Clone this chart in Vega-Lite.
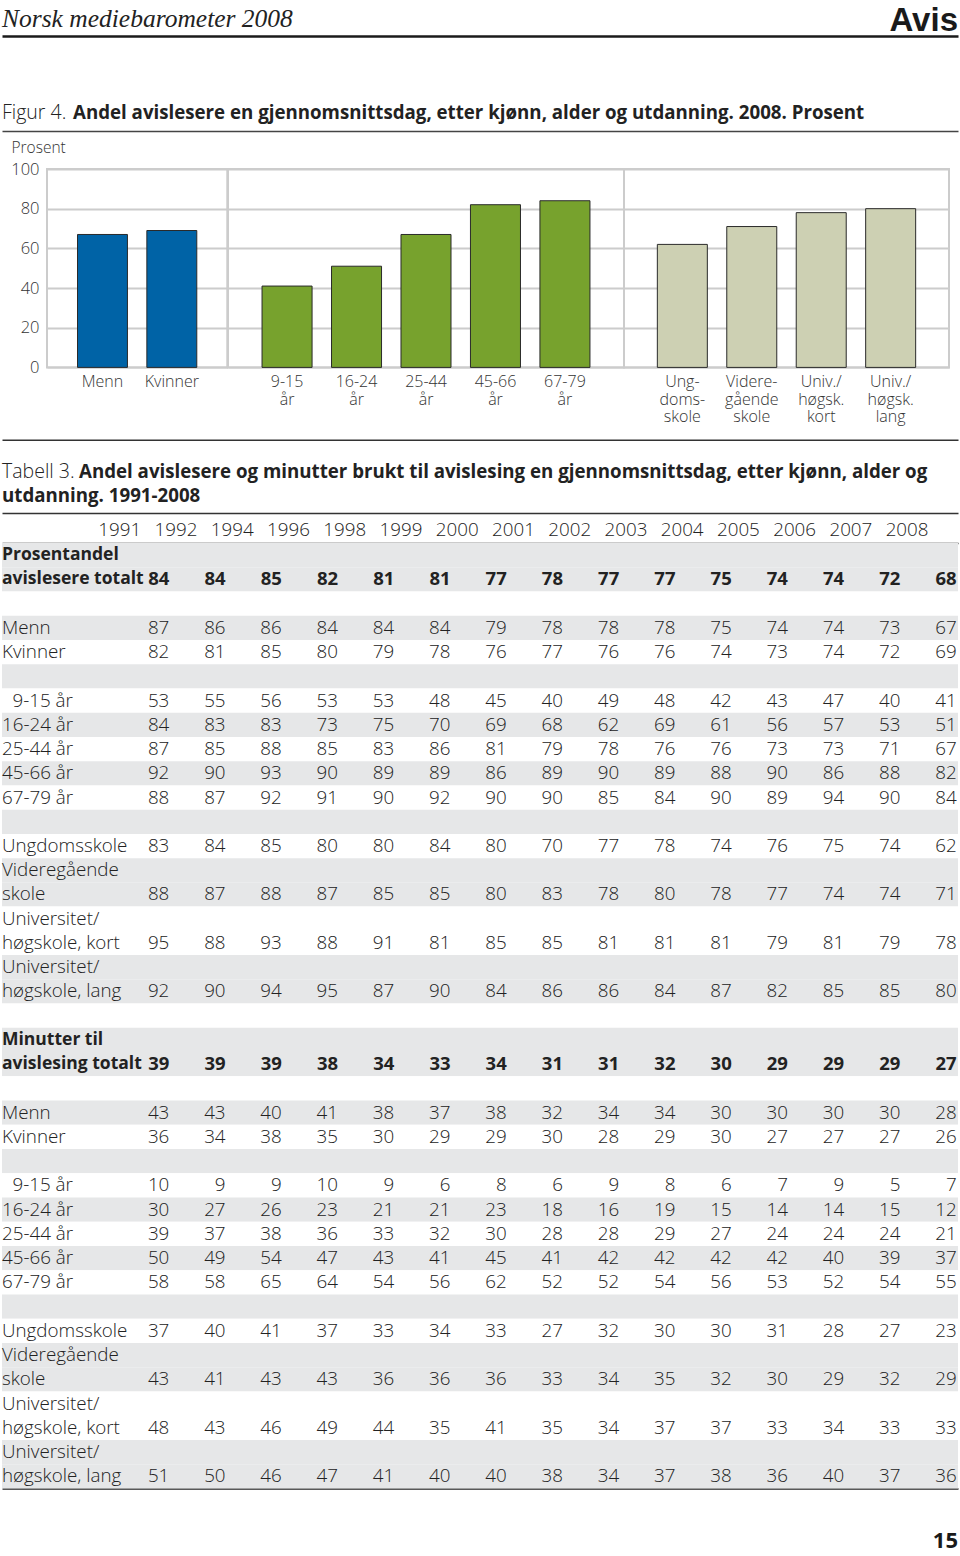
{
  "$schema": "https://vega.github.io/schema/vega-lite/v6.json",
  "padding": {"left": 2, "right": 2, "top": 0, "bottom": 0},
  "background": "white",
  "spacing": 0,
  "bounds": "flush",
  "config": {
    "view": {"stroke": null},
    "font": "Open Sans",
    "text": {"font": "Open Sans", "color": "#222222"},
    "axis": {"labelFont": "Open Sans", "titleFont": "Open Sans"}
  },
  "datasets": {
    "figur": [
      {"gruppe": "Kjønn", "kategori": "Menn", "prosent": 67},
      {"gruppe": "Kjønn", "kategori": "Kvinner", "prosent": 69},
      {"gruppe": "Alder", "kategori": "9-15\når", "prosent": 41},
      {"gruppe": "Alder", "kategori": "16-24\når", "prosent": 51},
      {"gruppe": "Alder", "kategori": "25-44\når", "prosent": 67},
      {"gruppe": "Alder", "kategori": "45-66\når", "prosent": 82},
      {"gruppe": "Alder", "kategori": "67-79\når", "prosent": 84},
      {"gruppe": "Utdanning", "kategori": "Ung-\ndoms-\nskole", "prosent": 62},
      {"gruppe": "Utdanning", "kategori": "Videre-\ngående\nskole", "prosent": 71},
      {"gruppe": "Utdanning", "kategori": "Univ./\nhøgsk.\nkort", "prosent": 78},
      {"gruppe": "Utdanning", "kategori": "Univ./\nhøgsk.\nlang", "prosent": 80}
    ],
    "tabell": [
      {"linje": 0, "rad": 0, "art": "total", "tekst": "Prosentandel"},
      {"linje": 1, "rad": 0, "art": "total", "tekst": "avislesere totalt", "1991": 84, "1992": 84, "1994": 85, "1996": 82, "1998": 81, "1999": 81, "2000": 77, "2001": 78, "2002": 77, "2003": 77, "2004": 75, "2005": 74, "2006": 74, "2007": 72, "2008": 68},
      {"linje": 2, "rad": 1, "art": "tom", "tekst": ""},
      {"linje": 3, "rad": 2, "art": "vanlig", "tekst": "Menn", "1991": 87, "1992": 86, "1994": 86, "1996": 84, "1998": 84, "1999": 84, "2000": 79, "2001": 78, "2002": 78, "2003": 78, "2004": 75, "2005": 74, "2006": 74, "2007": 73, "2008": 67},
      {"linje": 4, "rad": 3, "art": "vanlig", "tekst": "Kvinner", "1991": 82, "1992": 81, "1994": 85, "1996": 80, "1998": 79, "1999": 78, "2000": 76, "2001": 77, "2002": 76, "2003": 76, "2004": 74, "2005": 73, "2006": 74, "2007": 72, "2008": 69},
      {"linje": 5, "rad": 4, "art": "tom", "tekst": ""},
      {"linje": 6, "rad": 5, "art": "vanlig", "tekst": "9-15 år", "1991": 53, "1992": 55, "1994": 56, "1996": 53, "1998": 53, "1999": 48, "2000": 45, "2001": 40, "2002": 49, "2003": 48, "2004": 42, "2005": 43, "2006": 47, "2007": 40, "2008": 41},
      {"linje": 7, "rad": 6, "art": "vanlig", "tekst": "16-24 år", "1991": 84, "1992": 83, "1994": 83, "1996": 73, "1998": 75, "1999": 70, "2000": 69, "2001": 68, "2002": 62, "2003": 69, "2004": 61, "2005": 56, "2006": 57, "2007": 53, "2008": 51},
      {"linje": 8, "rad": 7, "art": "vanlig", "tekst": "25-44 år", "1991": 87, "1992": 85, "1994": 88, "1996": 85, "1998": 83, "1999": 86, "2000": 81, "2001": 79, "2002": 78, "2003": 76, "2004": 76, "2005": 73, "2006": 73, "2007": 71, "2008": 67},
      {"linje": 9, "rad": 8, "art": "vanlig", "tekst": "45-66 år", "1991": 92, "1992": 90, "1994": 93, "1996": 90, "1998": 89, "1999": 89, "2000": 86, "2001": 89, "2002": 90, "2003": 89, "2004": 88, "2005": 90, "2006": 86, "2007": 88, "2008": 82},
      {"linje": 10, "rad": 9, "art": "vanlig", "tekst": "67-79 år", "1991": 88, "1992": 87, "1994": 92, "1996": 91, "1998": 90, "1999": 92, "2000": 90, "2001": 90, "2002": 85, "2003": 84, "2004": 90, "2005": 89, "2006": 94, "2007": 90, "2008": 84},
      {"linje": 11, "rad": 10, "art": "tom", "tekst": ""},
      {"linje": 12, "rad": 11, "art": "vanlig", "tekst": "Ungdomsskole", "1991": 83, "1992": 84, "1994": 85, "1996": 80, "1998": 80, "1999": 84, "2000": 80, "2001": 70, "2002": 77, "2003": 78, "2004": 74, "2005": 76, "2006": 75, "2007": 74, "2008": 62},
      {"linje": 13, "rad": 12, "art": "vanlig", "tekst": "Videregående"},
      {"linje": 14, "rad": 12, "art": "vanlig", "tekst": "skole", "1991": 88, "1992": 87, "1994": 88, "1996": 87, "1998": 85, "1999": 85, "2000": 80, "2001": 83, "2002": 78, "2003": 80, "2004": 78, "2005": 77, "2006": 74, "2007": 74, "2008": 71},
      {"linje": 15, "rad": 13, "art": "vanlig", "tekst": "Universitet/"},
      {"linje": 16, "rad": 13, "art": "vanlig", "tekst": "høgskole, kort", "1991": 95, "1992": 88, "1994": 93, "1996": 88, "1998": 91, "1999": 81, "2000": 85, "2001": 85, "2002": 81, "2003": 81, "2004": 81, "2005": 79, "2006": 81, "2007": 79, "2008": 78},
      {"linje": 17, "rad": 14, "art": "vanlig", "tekst": "Universitet/"},
      {"linje": 18, "rad": 14, "art": "vanlig", "tekst": "høgskole, lang", "1991": 92, "1992": 90, "1994": 94, "1996": 95, "1998": 87, "1999": 90, "2000": 84, "2001": 86, "2002": 86, "2003": 84, "2004": 87, "2005": 82, "2006": 85, "2007": 85, "2008": 80},
      {"linje": 19, "rad": 15, "art": "tom", "tekst": ""},
      {"linje": 20, "rad": 16, "art": "total", "tekst": "Minutter til"},
      {"linje": 21, "rad": 16, "art": "total", "tekst": "avislesing totalt", "1991": 39, "1992": 39, "1994": 39, "1996": 38, "1998": 34, "1999": 33, "2000": 34, "2001": 31, "2002": 31, "2003": 32, "2004": 30, "2005": 29, "2006": 29, "2007": 29, "2008": 27},
      {"linje": 22, "rad": 17, "art": "tom", "tekst": ""},
      {"linje": 23, "rad": 18, "art": "vanlig", "tekst": "Menn", "1991": 43, "1992": 43, "1994": 40, "1996": 41, "1998": 38, "1999": 37, "2000": 38, "2001": 32, "2002": 34, "2003": 34, "2004": 30, "2005": 30, "2006": 30, "2007": 30, "2008": 28},
      {"linje": 24, "rad": 19, "art": "vanlig", "tekst": "Kvinner", "1991": 36, "1992": 34, "1994": 38, "1996": 35, "1998": 30, "1999": 29, "2000": 29, "2001": 30, "2002": 28, "2003": 29, "2004": 30, "2005": 27, "2006": 27, "2007": 27, "2008": 26},
      {"linje": 25, "rad": 20, "art": "tom", "tekst": ""},
      {"linje": 26, "rad": 21, "art": "vanlig", "tekst": "9-15 år", "1991": 10, "1992": 9, "1994": 9, "1996": 10, "1998": 9, "1999": 6, "2000": 8, "2001": 6, "2002": 9, "2003": 8, "2004": 6, "2005": 7, "2006": 9, "2007": 5, "2008": 7},
      {"linje": 27, "rad": 22, "art": "vanlig", "tekst": "16-24 år", "1991": 30, "1992": 27, "1994": 26, "1996": 23, "1998": 21, "1999": 21, "2000": 23, "2001": 18, "2002": 16, "2003": 19, "2004": 15, "2005": 14, "2006": 14, "2007": 15, "2008": 12},
      {"linje": 28, "rad": 23, "art": "vanlig", "tekst": "25-44 år", "1991": 39, "1992": 37, "1994": 38, "1996": 36, "1998": 33, "1999": 32, "2000": 30, "2001": 28, "2002": 28, "2003": 29, "2004": 27, "2005": 24, "2006": 24, "2007": 24, "2008": 21},
      {"linje": 29, "rad": 24, "art": "vanlig", "tekst": "45-66 år", "1991": 50, "1992": 49, "1994": 54, "1996": 47, "1998": 43, "1999": 41, "2000": 45, "2001": 41, "2002": 42, "2003": 42, "2004": 42, "2005": 42, "2006": 40, "2007": 39, "2008": 37},
      {"linje": 30, "rad": 25, "art": "vanlig", "tekst": "67-79 år", "1991": 58, "1992": 58, "1994": 65, "1996": 64, "1998": 54, "1999": 56, "2000": 62, "2001": 52, "2002": 52, "2003": 54, "2004": 56, "2005": 53, "2006": 52, "2007": 54, "2008": 55},
      {"linje": 31, "rad": 26, "art": "tom", "tekst": ""},
      {"linje": 32, "rad": 27, "art": "vanlig", "tekst": "Ungdomsskole", "1991": 37, "1992": 40, "1994": 41, "1996": 37, "1998": 33, "1999": 34, "2000": 33, "2001": 27, "2002": 32, "2003": 30, "2004": 30, "2005": 31, "2006": 28, "2007": 27, "2008": 23},
      {"linje": 33, "rad": 28, "art": "vanlig", "tekst": "Videregående"},
      {"linje": 34, "rad": 28, "art": "vanlig", "tekst": "skole", "1991": 43, "1992": 41, "1994": 43, "1996": 43, "1998": 36, "1999": 36, "2000": 36, "2001": 33, "2002": 34, "2003": 35, "2004": 32, "2005": 30, "2006": 29, "2007": 32, "2008": 29},
      {"linje": 35, "rad": 29, "art": "vanlig", "tekst": "Universitet/"},
      {"linje": 36, "rad": 29, "art": "vanlig", "tekst": "høgskole, kort", "1991": 48, "1992": 43, "1994": 46, "1996": 49, "1998": 44, "1999": 35, "2000": 41, "2001": 35, "2002": 34, "2003": 37, "2004": 37, "2005": 33, "2006": 34, "2007": 33, "2008": 33},
      {"linje": 37, "rad": 30, "art": "vanlig", "tekst": "Universitet/"},
      {"linje": 38, "rad": 30, "art": "vanlig", "tekst": "høgskole, lang", "1991": 51, "1992": 50, "1994": 46, "1996": 47, "1998": 41, "1999": 40, "2000": 40, "2001": 38, "2002": 34, "2003": 37, "2004": 38, "2005": 36, "2006": 40, "2007": 37, "2008": 36}
    ]
  },
  "vconcat": [
    {
      "width": 956, "height": 36,
      "layer": [
        {
          "data": {"values": [{"tekst": "Norsk mediebarometer 2008"}]},
          "mark": {"type": "text", "align": "left", "baseline": "middle", "font": "Liberation Serif", "fontStyle": "italic", "fontSize": 25.5, "color": "#222222", "dy": 1},
          "encoding": {
            "x": {"datum": "side", "type": "nominal", "scale": {"type": "band", "paddingInner": 0, "paddingOuter": 0}, "bandPosition": 0,
                  "axis": {"orient": "bottom", "labels": false, "ticks": false, "grid": false, "title": null, "domain": true, "domainColor": "#1a1a1a", "domainWidth": 2.5}},
            "text": {"field": "tekst"}
          }
        },
        {
          "data": {"values": [{"tekst": "Avis"}]},
          "mark": {"type": "text", "align": "right", "baseline": "middle", "font": "Liberation Sans", "fontSize": 33, "fontWeight": "bold", "color": "#1a1a1a", "dy": 3},
          "encoding": {
            "x": {"datum": "side", "type": "nominal", "bandPosition": 1},
            "text": {"field": "tekst"}
          }
        }
      ]
    },
    {"width": 956, "height": 59, "data": {"values": [{}]}, "mark": {"type": "text", "text": ""}},
    {
      "width": 956, "height": 36,
      "layer": [
        {
          "data": {"values": [{"tekst": "Figur 4."}]},
          "mark": {"type": "text", "align": "left", "baseline": "middle", "fontSize": 19.5, "fontWeight": 300, "color": "#222222"},
          "encoding": {
            "x": {"datum": "tittel", "type": "nominal", "scale": {"type": "band", "paddingInner": 0, "paddingOuter": 0}, "bandPosition": 0,
                  "axis": {"orient": "bottom", "labels": false, "ticks": false, "grid": false, "title": null, "domain": true, "domainColor": "#444444", "domainWidth": 1.5}},
            "text": {"field": "tekst"}
          }
        },
        {
          "data": {"values": [{"tekst": "Andel avislesere en gjennomsnittsdag, etter kjønn, alder og utdanning. 2008. Prosent"}]},
          "mark": {"type": "text", "align": "left", "baseline": "middle", "fontSize": 18.7, "fontWeight": "bold", "color": "#222222", "dx": 71},
          "encoding": {
            "x": {"datum": "tittel", "type": "nominal", "bandPosition": 0},
            "text": {"field": "tekst"}
          }
        }
      ]
    },
    {"width": 956, "height": 37.3, "data": {"values": [{}]}, "mark": {"type": "text", "text": ""}},
    {
      "spacing": 0,
      "bounds": "flush",
      "hconcat": [
        {"width": 44.7, "height": 198.4, "data": {"values": [{}]}, "mark": {"type": "text", "text": ""}},
        {
          "width": 180.3, "height": 198.4,
          "view": {"stroke": "#cccccc", "strokeWidth": 2},
          "data": {"name": "figur"},
          "transform": [{"filter": "datum.gruppe === 'Kjønn'"}],
          "mark": {"type": "bar", "stroke": "#2a2a2a", "strokeWidth": 1},
          "encoding": {
            "x": {"field": "kategori", "type": "nominal", "sort": null,
                  "scale": {"paddingInner": 0.28, "paddingOuter": 0.44},
                  "axis": {"title": null, "labelAngle": 0, "labelFontSize": 16, "labelColor": "#333333", "labelFontWeight": 300, "ticks": false, "domain": false, "labelPadding": 6, "labelLineHeight": 17.8, "labelExpr": "split(datum.label, '\\n')"}},
            "y": {"field": "prosent", "type": "quantitative", "scale": {"domain": [0, 100], "nice": false},
                  "axis": {"values": [0, 20, 40, 60, 80, 100], "grid": true, "gridColor": "#cccccc", "gridWidth": 2, "domain": false, "ticks": false,
                           "labelFontSize": 16.5, "labelColor": "#333333", "labelFontWeight": 300, "labelPadding": 8,
                           "title": "Prosent", "titleAngle": 0, "titleAlign": "left", "titleBaseline": "alphabetic", "titleX": -36, "titleY": -17,
                           "titleFontSize": 15.5, "titleFontWeight": 300, "titleColor": "#333333"}},
            "color": {"field": "gruppe", "type": "nominal", "scale": {"domain": ["Kjønn", "Alder", "Utdanning"], "range": ["#0063a6", "#77a22d", "#cdd0b3"]}, "legend": null}
          }
        },
        {
          "width": 396, "height": 198.4,
          "view": {"stroke": "#cccccc", "strokeWidth": 2},
          "data": {"name": "figur"},
          "transform": [{"filter": "datum.gruppe === 'Alder'"}],
          "mark": {"type": "bar", "stroke": "#2a2a2a", "strokeWidth": 1},
          "encoding": {
            "x": {"field": "kategori", "type": "nominal", "sort": null,
                  "scale": {"paddingInner": 0.28, "paddingOuter": 0.49},
                  "axis": {"title": null, "labelAngle": 0, "labelFontSize": 16, "labelColor": "#333333", "labelFontWeight": 300, "ticks": false, "domain": false, "labelPadding": 6, "labelLineHeight": 17.8, "labelExpr": "split(datum.label, '\\n')"}},
            "y": {"field": "prosent", "type": "quantitative", "scale": {"domain": [0, 100], "nice": false},
                  "axis": {"values": [0, 20, 40, 60, 80, 100], "grid": true, "gridColor": "#cccccc", "gridWidth": 2, "domain": false, "ticks": false, "labels": false, "title": null}},
            "color": {"field": "gruppe", "type": "nominal", "scale": {"domain": ["Kjønn", "Alder", "Utdanning"], "range": ["#0063a6", "#77a22d", "#cdd0b3"]}, "legend": null}
          }
        },
        {
          "width": 325, "height": 198.4,
          "view": {"stroke": "#cccccc", "strokeWidth": 2},
          "data": {"name": "figur"},
          "transform": [{"filter": "datum.gruppe === 'Utdanning'"}],
          "mark": {"type": "bar", "stroke": "#2a2a2a", "strokeWidth": 1},
          "encoding": {
            "x": {"field": "kategori", "type": "nominal", "sort": null,
                  "scale": {"paddingInner": 0.28, "paddingOuter": 0.48},
                  "axis": {"title": null, "labelAngle": 0, "labelFontSize": 16, "labelColor": "#333333", "labelFontWeight": 300, "ticks": false, "domain": false, "labelPadding": 6, "labelLineHeight": 17.8, "labelExpr": "split(datum.label, '\\n')"}},
            "y": {"field": "prosent", "type": "quantitative", "scale": {"domain": [0, 100], "nice": false},
                  "axis": {"values": [0, 20, 40, 60, 80, 100], "grid": true, "gridColor": "#cccccc", "gridWidth": 2, "domain": false, "ticks": false, "labels": false, "title": null}},
            "color": {"field": "gruppe", "type": "nominal", "scale": {"domain": ["Kjønn", "Alder", "Utdanning"], "range": ["#0063a6", "#77a22d", "#cdd0b3"]}, "legend": null}
          }
        }
      ]
    },
    {
      "width": 956, "height": 270.7, "data": {"values": [{}]}, "mark": {"type": "text", "text": ""},
      "encoding": {"x": {"datum": "linje", "type": "nominal", "scale": {"type": "band", "paddingInner": 0, "paddingOuter": 0},
                         "axis": {"orient": "bottom", "labels": false, "ticks": false, "grid": false, "title": null, "domain": true, "domainColor": "#333333", "domainWidth": 1.5}}}
    },
    {"width": 956, "height": 15, "data": {"values": [{}]}, "mark": {"type": "text", "text": ""}},
    {
      "width": 956, "height": 58,
      "layer": [
        {
          "data": {"values": [{"tekst": "Tabell 3.\n"}]},
          "mark": {"type": "text", "align": "left", "baseline": "middle", "fontSize": 19.5, "fontWeight": 300, "color": "#222222", "lineBreak": "\n", "lineHeight": 24, "dy": -12},
          "encoding": {
            "x": {"datum": "tittel", "type": "nominal", "scale": {"type": "band", "paddingInner": 0, "paddingOuter": 0}, "bandPosition": 0,
                  "axis": {"orient": "bottom", "labels": false, "ticks": false, "grid": false, "title": null, "domain": true, "domainColor": "#333333", "domainWidth": 1.5}},
            "text": {"field": "tekst"}
          }
        },
        {
          "data": {"values": [{"tekst": "Andel avislesere og minutter brukt til avislesing en gjennomsnittsdag, etter kjønn, alder og\n"}]},
          "mark": {"type": "text", "align": "left", "baseline": "middle", "fontSize": 18.7, "fontWeight": "bold", "color": "#222222", "lineBreak": "\n", "lineHeight": 24, "dx": 77, "dy": -12},
          "encoding": {"x": {"datum": "tittel", "type": "nominal", "bandPosition": 0}, "text": {"field": "tekst"}}
        },
        {
          "data": {"values": [{"tekst": "\nutdanning. 1991-2008"}]},
          "mark": {"type": "text", "align": "left", "baseline": "middle", "fontSize": 18.7, "fontWeight": "bold", "color": "#222222", "lineBreak": "\n", "lineHeight": 24, "dy": -12},
          "encoding": {"x": {"datum": "tittel", "type": "nominal", "bandPosition": 0}, "text": {"field": "tekst"}}
        }
      ]
    },
    {"width": 956, "height": 30, "data": {"values": [{}]}, "mark": {"type": "text", "text": ""}},
    {
      "width": 956, "height": 945.4,
      "data": {"name": "tabell"},
      "layer": [
        {
          "mark": {"type": "rect"},
          "encoding": {
            "y": {"field": "linje", "type": "ordinal", "scale": {"type": "band", "paddingInner": 0, "paddingOuter": 0}, "axis": null},
            "fill": {"condition": {"test": "datum.rad % 2 === 0", "value": "#e6e7e8"}, "value": "#ffffff"}
          }
        },
        {
          "transform": [{"filter": "datum.art === 'vanlig' && datum.tekst !== '9-15 år'"}],
          "mark": {"type": "text", "align": "left", "baseline": "middle", "fontSize": 18.8, "fontWeight": 300, "color": "#222222"},
          "encoding": {
            "x": {"datum": "tekst", "type": "nominal", "scale": {"type": "band", "paddingInner": 0, "paddingOuter": 0}, "bandPosition": 0,
                  "axis": {"orient": "bottom", "labels": false, "ticks": false, "grid": false, "title": null, "domain": true, "domainColor": "#222222", "domainWidth": 1.5}},
            "y": {"field": "linje", "type": "ordinal", "axis": null},
            "text": {"field": "tekst"}
          }
        },
        {
          "transform": [{"filter": "datum.tekst === '9-15 år'"}],
          "mark": {"type": "text", "align": "left", "baseline": "middle", "fontSize": 18.8, "fontWeight": 300, "color": "#222222", "dx": 10.5},
          "encoding": {
            "x": {"datum": "tekst", "type": "nominal", "scale": {"type": "band", "paddingInner": 0, "paddingOuter": 0}, "bandPosition": 0, "axis": null},
            "y": {"field": "linje", "type": "ordinal", "axis": null},
            "text": {"field": "tekst"}
          }
        },
        {
          "transform": [{"filter": "datum.art === 'total'"}],
          "mark": {"type": "text", "align": "left", "baseline": "middle", "fontSize": 17.5, "fontWeight": "bold", "color": "#222222"},
          "encoding": {
            "x": {"datum": "tekst", "type": "nominal", "scale": {"type": "band", "paddingInner": 0, "paddingOuter": 0}, "bandPosition": 0, "axis": null},
            "y": {"field": "linje", "type": "ordinal", "axis": null},
            "text": {"field": "tekst"}
          }
        },
        {
          "transform": [
            {"fold": ["1991", "1992", "1994", "1996", "1998", "1999", "2000", "2001", "2002", "2003", "2004", "2005", "2006", "2007", "2008"], "as": ["aar", "verdi"]},
            {"filter": "datum.verdi != null && datum.art === 'vanlig'"}
          ],
          "mark": {"type": "text", "align": "right", "baseline": "middle", "fontSize": 18.8, "fontWeight": 300, "color": "#222222"},
          "encoding": {
            "x": {"field": "aar", "type": "ordinal", "bandPosition": 1,
                  "scale": {"type": "band", "domain": ["1991", "1992", "1994", "1996", "1998", "1999", "2000", "2001", "2002", "2003", "2004", "2005", "2006", "2007", "2008"], "paddingInner": 0, "paddingOuter": 1.46, "align": 0.988},
                  "axis": {"orient": "top", "bandPosition": 1, "labelAlign": "right", "labelAngle": 0, "labelFontSize": 18.8, "labelFontWeight": 300, "labelColor": "#222222", "labelPadding": 4, "ticks": false, "grid": false, "domain": true, "domainColor": "#333333", "domainWidth": 1.5, "title": null}},
            "y": {"field": "linje", "type": "ordinal", "axis": null},
            "text": {"field": "verdi", "type": "quantitative"}
          }
        },
        {
          "transform": [
            {"fold": ["1991", "1992", "1994", "1996", "1998", "1999", "2000", "2001", "2002", "2003", "2004", "2005", "2006", "2007", "2008"], "as": ["aar", "verdi"]},
            {"filter": "datum.verdi != null && datum.art === 'total'"}
          ],
          "mark": {"type": "text", "align": "right", "baseline": "middle", "fontSize": 18.5, "fontWeight": "bold", "color": "#222222"},
          "encoding": {
            "x": {"field": "aar", "type": "ordinal", "bandPosition": 1,
                  "scale": {"type": "band", "domain": ["1991", "1992", "1994", "1996", "1998", "1999", "2000", "2001", "2002", "2003", "2004", "2005", "2006", "2007", "2008"], "paddingInner": 0, "paddingOuter": 1.46, "align": 0.988},
                  "axis": null},
            "y": {"field": "linje", "type": "ordinal", "axis": null},
            "text": {"field": "verdi", "type": "quantitative"}
          }
        }
      ],
      "resolve": {"scale": {"x": "independent"}, "axis": {"x": "independent"}}
    },
    {"width": 956, "height": 34.6, "data": {"values": [{}]}, "mark": {"type": "text", "text": ""}},
    {
      "width": 956, "height": 34,
      "data": {"values": [{"tekst": "15"}]},
      "mark": {"type": "text", "align": "right", "baseline": "middle", "fontSize": 22, "fontWeight": "bold", "color": "#1a1a1a"},
      "encoding": {
        "x": {"datum": "side", "type": "nominal", "scale": {"type": "band", "paddingInner": 0, "paddingOuter": 0}, "bandPosition": 1, "axis": null},
        "text": {"field": "tekst"}
      }
    }
  ]
}
